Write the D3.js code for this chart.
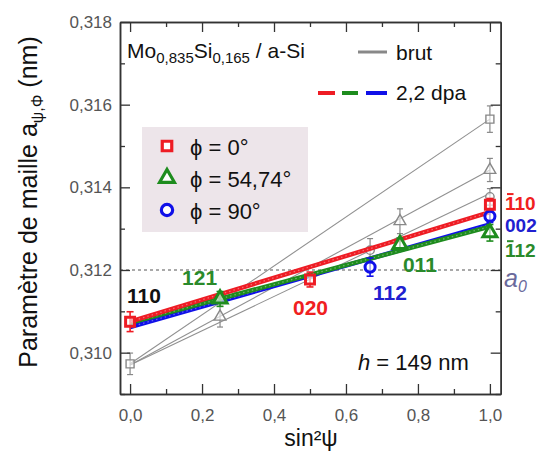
<!DOCTYPE html>
<html><head><meta charset="utf-8">
<script src="https://cdn.jsdelivr.net/npm/d3@7"></script>
<style>body{margin:0;background:#fff}svg{display:block}text{font-family:"Liberation Sans",Arial,sans-serif}</style>
</head><body><svg id="c" width="542" height="455"></svg>
<script>
// ---- data ----
const xTicks = [0, 0.2, 0.4, 0.6, 0.8, 1.0];
const xMinor = [0.1, 0.3, 0.5, 0.7, 0.9];
const yTicks = [0.310, 0.312, 0.314, 0.316, 0.318];
const yMinor = [0.309, 0.311, 0.313, 0.315, 0.317];
const a0 = 0.312;

// 2,2 dpa (coloured)
const redPsi = [0, 0.5, 1.0], redA = [0.31075, 0.31177, 0.31358], redErr = [0.00024, 0.00018, 0.00015];
const greenPsi = [0.25, 0.75, 1.0], greenA = [0.31130, 0.31262, 0.31290], greenErr = [0.00018, 0.00015, 0.0002];
const bluePsi = [0.667, 1.0], blueA = [0.31207, 0.31330], blueErr = [0.00022, 0.00015];
// fitted lines: value at sin²ψ = 0 and 1
const redFit = [0.31075, 0.31340], greenFit = [0.31072, 0.31305], blueFit = [0.31062, 0.31310];

// brut (grey)
const gSqPsi = [0, 1.0], gSqA = [0.30973, 0.31565], gSqErr = [0.00026, 0.00032];
const gTrPsi = [0.25, 0.75, 1.0], gTrA = [0.31087, 0.31318, 0.31442], gTrErr = [0.00025, 0.0003, 0.00028];
const gCiPsi = [0.667, 1.0], gCiA = [0.31248, 0.31377], gCiErr = [0.00028, 0.0002];
const gSqFit = [0.30973, 0.31565], gTrFit = [0.30970, 0.31442], gCiFit = [0.30970, 0.31385];

// labels
const pointLabels = [
  {t:"110", psi:0.0, a:0.31120, c:"#111", dx:-3},
  {t:"121", psi:0.25, a:0.31164, c:"#2a8a2a", dx:-38},
  {t:"020", psi:0.5, a:0.31090, c:"#f02020", dx:-17},
  {t:"112", psi:0.667, a:0.31127, c:"#2020d0", dx:3},
  {t:"011", psi:0.75, a:0.31195, c:"#2a8a2a", dx:3}
];
const rightLabels = [
  {t:"110", bar:true, a:0.31345, c:"#f02020"},
  {t:"002", bar:false, a:0.31293, c:"#2020d0"},
  {t:"112", bar:true, a:0.31231, c:"#2a8a2a"}
];

// ---- chart ----
const svg = d3.select("#c");
const x = d3.scaleLinear().domain([-0.028, 1.03]).range([120, 500.7]);
const y = d3.scaleLinear().domain([0.309, 0.318]).range([394, 22]);
const RED = "#ee1c24", GREEN = "#1e8c1e", BLUE = "#1010e8", GREY = "#888";
const fmtY = d => d3.format(".3f")(d).replace(".", ",");
const fmtX = d => d3.format(".1f")(d).replace(".", ",");

// legend box (background)
svg.append("rect").attr("x", 142).attr("y", 127).attr("width", 166).attr("height", 105).attr("fill", "#ede5ea");

// a0 dashed line
svg.append("line").attr("x1", x.range()[0]).attr("x2", x.range()[1]).attr("y1", y(a0)).attr("y2", y(a0))
  .attr("stroke", "#555").attr("stroke-width", 1.2).attr("stroke-dasharray", "3,3");

// grey fit lines
[gSqFit, gTrFit, gCiFit].forEach(f => {
  svg.append("line").attr("x1", x(0)).attr("y1", y(f[0])).attr("x2", x(1)).attr("y2", y(f[1]))
    .attr("stroke", "#909090").attr("stroke-width", 1.1);
});

function errBars(psi, a, err, col, w, cap) {
  psi.forEach((p, i) => {
    const g = svg.append("g").attr("stroke", col).attr("stroke-width", w);
    g.append("line").attr("x1", x(p)).attr("x2", x(p)).attr("y1", y(a[i] - err[i])).attr("y2", y(a[i] + err[i]));
    [a[i] - err[i], a[i] + err[i]].forEach(v => g.append("line").attr("x1", x(p) - cap).attr("x2", x(p) + cap).attr("y1", y(v)).attr("y2", y(v)));
  });
}
function markers(psi, a, type, size, col, sw) {
  svg.selectAll(null).data(psi).enter().append("path")
    .attr("d", d3.symbol().type(type).size(size))
    .attr("transform", (p, i) => `translate(${x(p)},${y(a[i])})`)
    .attr("fill", "white").attr("fill-opacity", 0.6).attr("stroke", col).attr("stroke-width", sw);
}

// grey markers
errBars(gSqPsi, gSqA, gSqErr, GREY, 1.2, 3);
errBars(gTrPsi, gTrA, gTrErr, GREY, 1.2, 3);
errBars(gCiPsi, gCiA, gCiErr, GREY, 1.2, 3);
markers(gSqPsi, gSqA, d3.symbolSquare, 64, GREY, 1.4);
markers(gTrPsi, gTrA, d3.symbolTriangle, 60, GREY, 1.4);
markers(gCiPsi, gCiA, d3.symbolCircle, 55, GREY, 1.4);

// coloured fit lines
[[blueFit, BLUE], [greenFit, GREEN], [redFit, RED]].forEach(([f, c]) => {
  svg.append("line").attr("x1", x(0)).attr("y1", y(f[0])).attr("x2", x(1)).attr("y2", y(f[1]))
    .attr("stroke", c).attr("stroke-width", 4.5);
  svg.append("line").attr("x1", x(0)).attr("y1", y(f[0])).attr("x2", x(1)).attr("y2", y(f[1]))
    .attr("stroke", "white").attr("stroke-opacity", 0.35).attr("stroke-width", 1.3).attr("stroke-dasharray", "1.5,3");
});

// coloured markers
errBars(bluePsi, blueA, blueErr, BLUE, 1.6, 3.5);
errBars(greenPsi, greenA, greenErr, GREEN, 1.6, 3.5);
errBars(redPsi, redA, redErr, RED, 1.6, 3.5);
markers(bluePsi, blueA, d3.symbolCircle, 80, BLUE, 3);
markers(greenPsi, greenA, d3.symbolTriangle, 85, GREEN, 3);
markers(redPsi, redA, d3.symbolSquare, 80, RED, 3);

// axes
const ax = svg.append("g");
function addAxis(gen, tr, vals, size, labels) {
  const g = ax.append("g").attr("transform", tr)
    .call(gen.tickValues(vals).tickSizeInner(size).tickSizeOuter(0).tickPadding(6));
  g.select(".domain").attr("stroke", "#333").attr("stroke-width", 1.5);
  g.selectAll(".tick line").attr("stroke", "#333").attr("stroke-width", 1.3);
  g.selectAll("text").attr("fill", "#555").attr("font-size", 17).attr("font-family", '"Liberation Sans",Arial,sans-serif');
  if (!labels) g.selectAll("text").remove();
  return g;
}
const yBot = y.range()[0], yTop = y.range()[1], xLeft = x.range()[0], xRight = x.range()[1];
addAxis(d3.axisBottom(x).tickFormat(fmtX), `translate(0,${yBot})`, xTicks, -10, true).selectAll("text").attr("y", 12).attr("dy", "0.9em");
addAxis(d3.axisBottom(x), `translate(0,${yBot})`, xMinor, -5, false);
addAxis(d3.axisTop(x), `translate(0,${yTop})`, xTicks, -10, false);
addAxis(d3.axisTop(x), `translate(0,${yTop})`, xMinor, -5, false);
addAxis(d3.axisLeft(y).tickFormat(fmtY), `translate(${xLeft},0)`, yTicks, -10, true).selectAll("text").attr("x", -8);
addAxis(d3.axisLeft(y), `translate(${xLeft},0)`, yMinor, -5, false);
addAxis(d3.axisRight(y), `translate(${xRight},0)`, yTicks, -10, false);
addAxis(d3.axisRight(y), `translate(${xRight},0)`, yMinor, -5, false);

// point labels
pointLabels.forEach(l => {
  svg.append("text").attr("x", x(l.psi) + l.dx).attr("y", y(l.a)).attr("fill", l.c)
    .attr("font-size", 21).attr("font-weight", "bold").text(l.t);
});
rightLabels.forEach(l => {
  const t = svg.append("text").attr("x", 505).attr("y", y(l.a)).attr("fill", l.c)
    .attr("font-size", 19).attr("font-weight", "bold").text(l.t);
  if (l.bar) {
    const e = t.node().getExtentOfChar(0);
    svg.append("line").attr("x1", e.x + 2).attr("x2", e.x + e.width - 1)
      .attr("y1", y(l.a) - 16).attr("y2", y(l.a) - 16).attr("stroke", l.c).attr("stroke-width", 2);
  }
});
const a0t = svg.append("text").attr("x", 504).attr("y", y(a0) + 17).attr("fill", "#6a6a9c")
  .attr("font-size", 25).attr("font-style", "italic");
a0t.append("tspan").text("a");
a0t.append("tspan").attr("font-size", 16).attr("dy", 5).text("0");

// title
const tt = svg.append("text").attr("x", 127).attr("y", 58).attr("font-size", 21).attr("fill", "#111");
tt.append("tspan").text("Mo");
tt.append("tspan").attr("font-size", 15).attr("dy", 5).text("0,835");
tt.append("tspan").attr("dy", -5).text("Si");
tt.append("tspan").attr("font-size", 15).attr("dy", 5).text("0,165");
tt.append("tspan").attr("dy", -5).text(" / a-Si");

// brut / dpa legend
svg.append("line").attr("x1", 358).attr("x2", 387).attr("y1", 52).attr("y2", 52).attr("stroke", GREY).attr("stroke-width", 3);
svg.append("text").attr("x", 396).attr("y", 60).attr("font-size", 21).attr("fill", "#111").text("brut");
[[318, 335, RED], [342, 358, GREEN], [366, 387, BLUE]].forEach(([a, b, c]) =>
  svg.append("line").attr("x1", a).attr("x2", b).attr("y1", 93).attr("y2", 93).attr("stroke", c).attr("stroke-width", 4));
svg.append("text").attr("x", 396).attr("y", 100).attr("font-size", 21).attr("fill", "#111").text("2,2 dpa");

// phi legend
const legItems = [
  {sym: d3.symbolSquare, c: RED, s: 90, t: "ϕ = 0°", yy: 146},
  {sym: d3.symbolTriangle, c: GREEN, s: 95, t: "ϕ = 54,74°", yy: 178},
  {sym: d3.symbolCircle, c: BLUE, s: 100, t: "ϕ = 90°", yy: 210}
];
legItems.forEach(l => {
  svg.append("path").attr("d", d3.symbol().type(l.sym).size(l.s)).attr("transform", `translate(167,${l.yy})`)
    .attr("fill", "white").attr("stroke", l.c).attr("stroke-width", 3.2);
  svg.append("text").attr("x", 190).attr("y", l.yy + 9).attr("font-size", 22).attr("fill", "#111").text(l.t);
});

// h label
const ht = svg.append("text").attr("x", 358).attr("y", 370).attr("font-size", 22).attr("fill", "#111");
ht.append("tspan").attr("font-style", "italic").text("h");
ht.append("tspan").text(" = 149 nm");

// axis titles
const xt = svg.append("text").attr("x", 311).attr("y", 446).attr("text-anchor", "middle").attr("font-size", 23).attr("fill", "#111");
xt.append("tspan").text("sin²ψ");
const yt = svg.append("text").attr("transform", "translate(37,202) rotate(-90)").attr("text-anchor", "middle")
  .attr("font-size", 25).attr("fill", "#111");
yt.append("tspan").text("Paramètre de maille a");
yt.append("tspan").attr("font-size", 16).attr("dy", 6).text("ψ,Φ");
yt.append("tspan").attr("dy", -6).text(" (nm)");
</script></body></html>
